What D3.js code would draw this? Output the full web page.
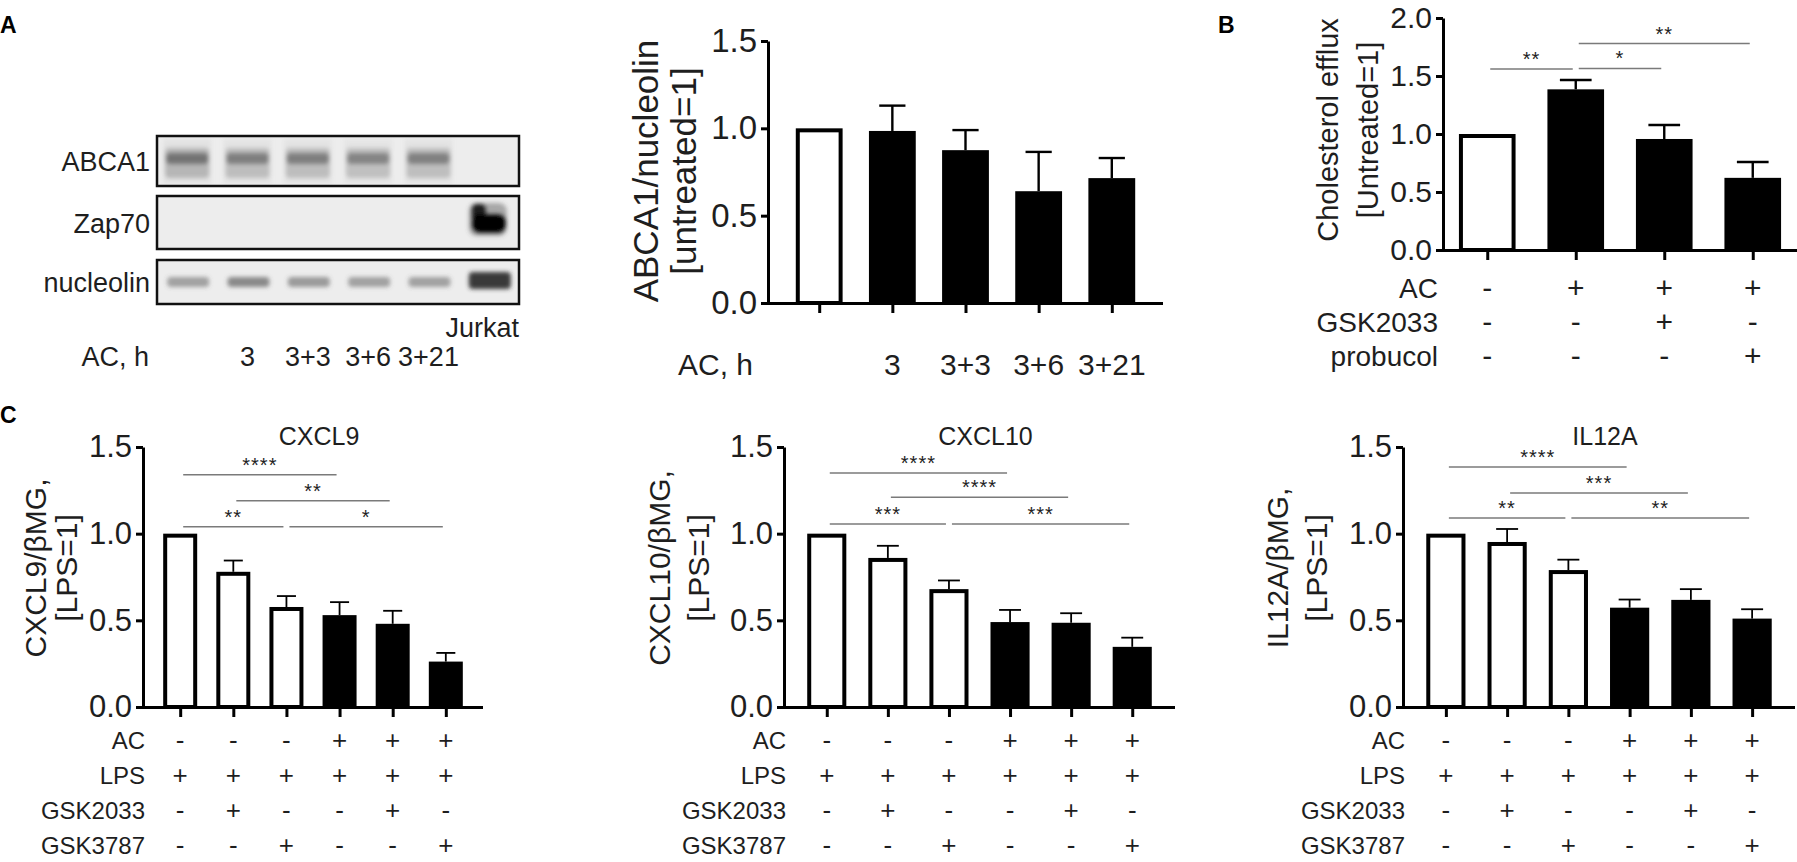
<!DOCTYPE html>
<html>
<head>
<meta charset="utf-8">
<script src="https://cdnjs.cloudflare.com/ajax/libs/d3/7.8.5/d3.min.js"></script>
<style>
  body { margin: 0; background: #fff; }
  text { font-family: "Liberation Sans", Arial, sans-serif; fill: #1e1e1e; }
</style>
</head>
<body>
<svg id="fig"></svg>
<script>
// ---- panel A: western blot ----
const blotLanes = ["ctrl", "3", "3+3", "3+6", "3+21", "Jurkat"];
const blotHourLabels = ["", "3", "3+3", "3+6", "3+21", ""];
const abca1Signal = [0.62, 0.55, 0.55, 0.5, 0.52, 0];
const zap70Signal = [0, 0, 0, 0, 0, 1];
const nucleolinSignal = [0.5, 0.65, 0.55, 0.5, 0.5, 0.95];

// ---- panel A: quantification ----
const abcaHours = ["", "3", "3+3", "3+6", "3+21"];
const abcaMean = [1.0, 0.985, 0.875, 0.64, 0.715];
const abcaErr = [0, 0.145, 0.115, 0.225, 0.115];

// ---- panel B: cholesterol efflux ----
const effluxAC = ["-", "+", "+", "+"];
const effluxGSK2033 = ["-", "-", "+", "-"];
const effluxProbucol = ["-", "-", "-", "+"];
const effluxMean = [1.0, 1.385, 0.957, 0.622];
const effluxErr = [0, 0.08, 0.12, 0.137];
const effluxSig = [
  { from: 0, to: 1, label: "**", level: 1.56 },
  { from: 1, to: 2, label: "*", level: 1.565 },
  { from: 1, to: 3, label: "**", level: 1.78 }
];

// ---- panel C: gene expression ----
const geneAC = ["-", "-", "-", "+", "+", "+"];
const geneLPS = ["+", "+", "+", "+", "+", "+"];
const geneGSK2033 = ["-", "+", "-", "-", "+", "-"];
const geneGSK3787 = ["-", "-", "+", "-", "-", "+"];

const cxcl9Mean = [1.0, 0.78, 0.577, 0.53, 0.48, 0.262];
const cxcl9Err = [0, 0.065, 0.063, 0.075, 0.075, 0.05];
const cxcl9Sig = [
  { from: 0, to: 3, label: "****", level: 1.34 },
  { from: 1, to: 4, label: "**", level: 1.19 },
  { from: 0, to: 2, label: "**", level: 1.04 },
  { from: 2, to: 5, label: "*", level: 1.04 }
];

const cxcl10Mean = [1.0, 0.86, 0.68, 0.49, 0.486, 0.347];
const cxcl10Err = [0, 0.07, 0.05, 0.07, 0.055, 0.053];
const cxcl10Sig = [
  { from: 0, to: 3, label: "****", level: 1.35 },
  { from: 1, to: 4, label: "****", level: 1.21 },
  { from: 0, to: 2, label: "***", level: 1.056 },
  { from: 2, to: 5, label: "***", level: 1.056 }
];

const il12aMean = [1.0, 0.952, 0.79, 0.573, 0.618, 0.51];
const il12aErr = [0, 0.075, 0.06, 0.047, 0.062, 0.054];
const il12aSig = [
  { from: 0, to: 3, label: "****", level: 1.385 },
  { from: 1, to: 4, label: "***", level: 1.235 },
  { from: 0, to: 2, label: "**", level: 1.09 },
  { from: 2, to: 5, label: "**", level: 1.09 }
];

const svg = d3.select("#fig").attr("width", 1797).attr("height", 862);
svg.append("rect").attr("width", 1797).attr("height", 862).attr("fill", "#fff");

const defs = svg.append("defs");
defs.append("filter").attr("id", "blur").attr("x", "-30%").attr("y", "-60%")
  .attr("width", "160%").attr("height", "220%")
  .append("feGaussianBlur").attr("stdDeviation", 2.2);

// panel letters
[["A", 0, 33], ["B", 1218, 33], ["C", 0, 423]].forEach(([t, x, y]) => {
  svg.append("text").attr("x", x).attr("y", y).attr("font-size", 23)
    .attr("font-weight", "bold").style("fill", "#000").text(t);
});

// ---------------- western blot ----------------
function drawBlot() {
  const g = svg.append("g");
  const lane = d3.scaleBand().domain(blotLanes).range([157, 519]);
  const cx = (d) => lane(d) + lane.bandwidth() / 2;
  const boxes = [
    { name: "ABCA1", top: 136, bottom: 186 },
    { name: "Zap70", top: 196, bottom: 249 },
    { name: "nucleolin", top: 260, bottom: 304 }
  ];

  boxes.forEach((b) => {
    g.append("rect").attr("x", 157).attr("y", b.top)
      .attr("width", 362).attr("height", b.bottom - b.top)
      .attr("fill", "#ededed");
    g.append("text").attr("x", 150).attr("y", (b.top + b.bottom) / 2 + 10)
      .attr("text-anchor", "end").attr("font-size", 27).text(b.name);
  });

  // ABCA1 bands
  const abca = g.append("g").attr("filter", "url(#blur)");
  abca.selectAll("rect.smear").data(blotLanes).join("rect")
    .attr("x", (d) => cx(d) - 24).attr("y", 139)
    .attr("width", 48).attr("height", 45)
    .attr("fill", "#999").attr("opacity", (d, i) => abca1Signal[i] * 0.2);
  abca.selectAll("rect.wide").data(blotLanes).join("rect")
    .attr("x", (d) => cx(d) - 22).attr("y", 148)
    .attr("width", 44).attr("height", 30).attr("rx", 4)
    .attr("fill", "#8a8a8a").attr("opacity", (d, i) => abca1Signal[i] * 0.8);
  abca.selectAll("rect.core").data(blotLanes).join("rect")
    .attr("x", (d) => cx(d) - 21).attr("y", 153)
    .attr("width", 42).attr("height", 11).attr("rx", 4)
    .attr("fill", "#4a4a4a").attr("opacity", (d, i) => abca1Signal[i]);

  // Zap70 band
  const zap = g.append("g").attr("filter", "url(#blur)");
  zap.selectAll("rect.halo").data(blotLanes).join("rect")
    .attr("x", (d) => cx(d) - 20).attr("y", 203)
    .attr("width", 38).attr("height", 33).attr("rx", 8)
    .attr("fill", "#555").attr("opacity", (d, i) => zap70Signal[i] * 0.45);
  zap.selectAll("rect.top").data(blotLanes).join("rect")
    .attr("x", (d) => cx(d) - 17).attr("y", 204)
    .attr("width", 14).attr("height", 18).attr("rx", 5)
    .attr("fill", "#1a1a1a").attr("opacity", (d, i) => zap70Signal[i]);
  zap.selectAll("rect.core").data(blotLanes).join("rect")
    .attr("x", (d) => cx(d) - 17).attr("y", 214)
    .attr("width", 34).attr("height", 19).attr("rx", 8)
    .attr("fill", "#000").attr("opacity", (d, i) => zap70Signal[i]);

  // nucleolin bands
  const nuc = g.append("g").attr("filter", "url(#blur)");
  nuc.selectAll("rect").data(blotLanes).join("rect")
    .attr("x", (d) => cx(d) - 20).attr("y", (d, i) => (i === 5 ? 272 : 277))
    .attr("width", 42).attr("height", (d, i) => (i === 5 ? 17 : 10)).attr("rx", 4)
    .attr("fill", (d, i) => (i === 5 ? "#2e2e2e" : "#555"))
    .attr("opacity", (d, i) => nucleolinSignal[i]);

  boxes.forEach((b) => {
    g.append("rect").attr("x", 157).attr("y", b.top)
      .attr("width", 362).attr("height", b.bottom - b.top)
      .attr("fill", "none").attr("stroke", "#111").attr("stroke-width", 2.5);
  });

  g.append("text").attr("x", 519).attr("y", 337).attr("text-anchor", "end")
    .attr("font-size", 27).text("Jurkat");
  g.append("text").attr("x", 149).attr("y", 366).attr("text-anchor", "end")
    .attr("font-size", 27).text("AC, h");
  g.selectAll("text.hour").data(blotLanes).join("text")
    .attr("x", (d) => cx(d)).attr("y", 366).attr("text-anchor", "middle")
    .attr("font-size", 27).text((d, i) => blotHourLabels[i]);
}

// ---------------- bar panels ----------------
function drawBarPanel(cfg) {
  const g = svg.append("g");
  const n = cfg.means.length;
  const x = d3.scalePoint().domain(d3.range(n)).range([cfg.x0, cfg.x1]).padding(cfg.pad);
  const y = d3.scaleLinear().domain([0, cfg.yMax]).range([cfg.yZero, cfg.yTop]);
  const bw = x.step() * 0.64;
  const sw = 4;
  const rows = d3.range(n).map((i) => ({ i, m: cfg.means[i], e: cfg.errs[i], f: cfg.fills[i] }));

  // error bars (drawn behind bars)
  const err = g.append("g").attr("stroke", "#000").attr("stroke-width", cfg.errW);
  err.selectAll("line.stem").data(rows.filter((d) => d.e > 0)).join("line")
    .attr("x1", (d) => x(d.i)).attr("x2", (d) => x(d.i))
    .attr("y1", (d) => y(d.m)).attr("y2", (d) => y(d.m + d.e));
  err.selectAll("line.cap").data(rows.filter((d) => d.e > 0)).join("line")
    .attr("x1", (d) => x(d.i) - bw * 0.28).attr("x2", (d) => x(d.i) + bw * 0.28)
    .attr("y1", (d) => y(d.m + d.e)).attr("y2", (d) => y(d.m + d.e));

  g.append("g").selectAll("rect").data(rows).join("rect")
    .attr("x", (d) => x(d.i) - bw / 2 + sw / 2)
    .attr("y", (d) => y(d.m) + sw / 2)
    .attr("width", bw - sw)
    .attr("height", (d) => y(0) - y(d.m) - sw / 2)
    .attr("fill", (d) => (d.f ? "#fff" : "#000"))
    .attr("stroke", "#000").attr("stroke-width", sw);

  // axes
  const yAxis = g.append("g").attr("transform", `translate(${cfg.x0},0)`)
    .call(d3.axisLeft(y).tickValues(cfg.ticks).tickFormat(d3.format(".1f"))
      .tickSize(7).tickSizeOuter(0).tickPadding(4));
  yAxis.selectAll("path, line").attr("stroke", "#000").attr("stroke-width", 3);
  yAxis.selectAll("text").attr("font-size", cfg.tickFont);

  const xAxis = g.append("g").attr("transform", `translate(0,${cfg.yZero})`)
    .call(d3.axisBottom(x).tickSize(10).tickSizeOuter(0).tickFormat(""));
  xAxis.selectAll("path, line").attr("stroke", "#000").attr("stroke-width", 3);
  xAxis.select("path").attr("d", `M${cfg.x0 - 1.5},0.5H${cfg.x1}`);

  // significance brackets
  if (cfg.sig) {
    g.selectAll("line.sig").data(cfg.sig).join("line")
      .attr("x1", (d) => x(d.from) + 3).attr("x2", (d) => x(d.to) - 3)
      .attr("y1", (d) => y(d.level)).attr("y2", (d) => y(d.level))
      .attr("stroke", "#7a7a7a").attr("stroke-width", 1.6);
    g.selectAll("text.sig").data(cfg.sig).join("text")
      .attr("x", (d) => (x(d.from) + x(d.to)) / 2)
      .attr("y", (d) => y(d.level) - 3)
      .attr("text-anchor", "middle").attr("font-size", 20)
      .attr("letter-spacing", 1).text((d) => d.label);
  }

  // title
  if (cfg.title) {
    g.append("text").attr("x", (cfg.x0 + cfg.x1) / 2 + 6).attr("y", 445)
      .attr("text-anchor", "middle").attr("font-size", 25).text(cfg.title);
  }

  // y label (rotated, two lines)
  cfg.ylab.lines.forEach((t, k) => {
    g.append("text")
      .attr("transform", `translate(${cfg.ylab.xs[k]},${cfg.ylab.cy}) rotate(-90)`)
      .attr("text-anchor", "middle").attr("font-size", cfg.ylab.font).text(t);
  });

  // condition rows under the axis
  cfg.rows.forEach((r, k) => {
    const yy = cfg.rowY0 + k * cfg.rowDy;
    g.append("text").attr("x", cfg.labelX).attr("y", yy).attr("text-anchor", "end")
      .attr("font-size", cfg.rowFont).text(r.name);
    g.selectAll(`text.mark${k}`).data(r.values).join("text")
      .attr("x", (d, i) => x(i)).attr("y", yy).attr("text-anchor", "middle")
      .attr("font-size", cfg.markFont).text((d) => d);
  });
}

drawBlot();

drawBarPanel({
  x0: 768, x1: 1163, yZero: 303, yTop: 41, yMax: 1.5, pad: 0.7,
  ticks: [0, 0.5, 1.0, 1.5], tickFont: 33, errW: 2.4,
  means: abcaMean, errs: abcaErr, fills: abcaHours.map((h) => h === ""),
  ylab: { lines: ["ABCA1/nucleolin", "[untreated=1]"], xs: [658, 696], cy: 171, font: 35 },
  rows: [{ name: "AC, h", values: abcaHours }],
  rowY0: 375, rowDy: 0, labelX: 753, rowFont: 30, markFont: 30
});

drawBarPanel({
  x0: 1443, x1: 1797, yZero: 250, yTop: 18, yMax: 2.0, pad: 0.5,
  ticks: [0, 0.5, 1.0, 1.5, 2.0], tickFont: 30, errW: 2.4,
  means: effluxMean, errs: effluxErr, fills: effluxAC.map((a) => a === "-"),
  sig: effluxSig,
  ylab: { lines: ["Cholesterol efflux", "[Untreated=1]"], xs: [1338, 1378], cy: 130, font: 29 },
  rows: [
    { name: "AC", values: effluxAC },
    { name: "GSK2033", values: effluxGSK2033 },
    { name: "probucol", values: effluxProbucol }
  ],
  rowY0: 298, rowDy: 34, labelX: 1438, rowFont: 28, markFont: 30
});

const geneRows = [
  { name: "AC", values: geneAC },
  { name: "LPS", values: geneLPS },
  { name: "GSK2033", values: geneGSK2033 },
  { name: "GSK3787", values: geneGSK3787 }
];

const cPanels = [
  { title: "CXCL9", means: cxcl9Mean, errs: cxcl9Err, sig: cxcl9Sig, x0: 143, x1: 483,
    ylab: ["CXCL9/βMG,", "[LPS=1]"], xs: [46, 77] },
  { title: "CXCL10", means: cxcl10Mean, errs: cxcl10Err, sig: cxcl10Sig, x0: 784, x1: 1175,
    ylab: ["CXCL10/βMG,", "[LPS=1]"], xs: [670, 709] },
  { title: "IL12A", means: il12aMean, errs: il12aErr, sig: il12aSig, x0: 1403, x1: 1795,
    ylab: ["IL12A/βMG,", "[LPS=1]"], xs: [1288, 1327] }
];

cPanels.forEach((p) => {
  drawBarPanel({
    x0: p.x0, x1: p.x1, yZero: 707, yTop: 447, yMax: 1.5, pad: 0.7,
    ticks: [0, 0.5, 1.0, 1.5], tickFont: 31, errW: 1.8,
    means: p.means, errs: p.errs, fills: geneAC.map((a) => a === "-"),
    sig: p.sig, title: p.title,
    ylab: { lines: p.ylab, xs: p.xs, cy: 568, font: 30 },
    rows: geneRows,
    rowY0: 749, rowDy: 35, labelX: p.x0 + 2, rowFont: 24, markFont: 26
  });
});
</script>
</body>
</html>
